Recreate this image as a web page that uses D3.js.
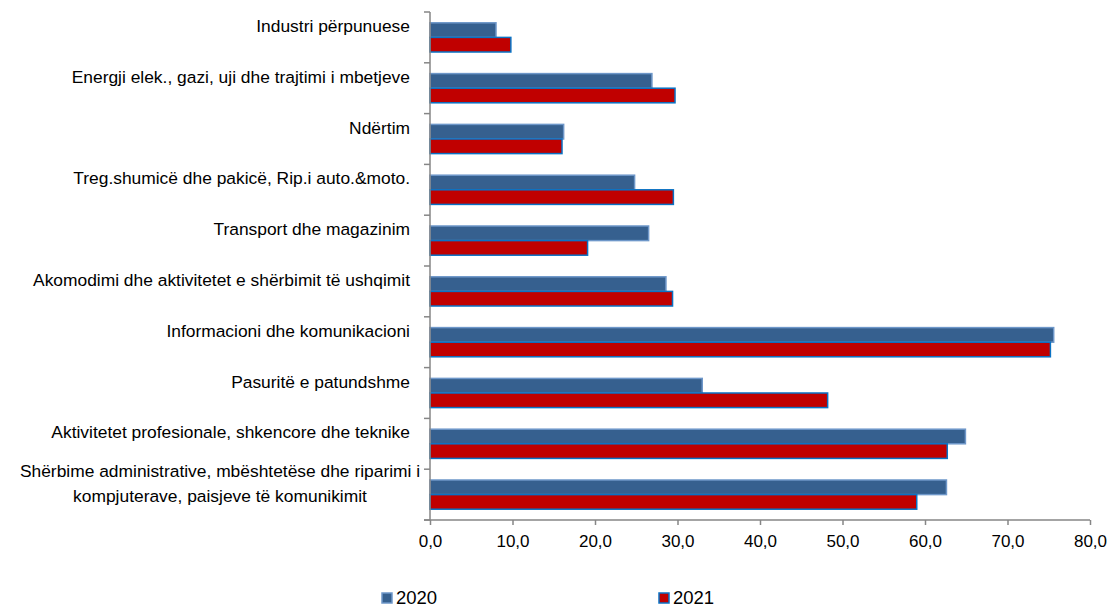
<!DOCTYPE html>
<html><head><meta charset="utf-8">
<script src="https://cdn.jsdelivr.net/npm/d3@7"></script>
<style>body{margin:0;background:#fff;} text{font-family:"Liberation Sans",Arial,sans-serif;fill:#000;}</style>
</head><body><svg id="c" width="1119" height="610"></svg>
<script>
const categories = [
  ["Industri përpunuese"],
  ["Energji elek., gazi, uji dhe trajtimi i mbetjeve"],
  ["Ndërtim"],
  ["Treg.shumicë dhe pakicë, Rip.i auto.&moto."],
  ["Transport dhe magazinim"],
  ["Akomodimi dhe aktivitetet e shërbimit të ushqimit"],
  ["Informacioni dhe komunikacioni"],
  ["Pasuritë e patundshme"],
  ["Aktivitetet profesionale, shkencore dhe teknike"],
  ["Shërbime administrative, mbështetëse dhe riparimi i", "kompjuterave, paisjeve të komunikimit"]
];
const series = ["2020", "2021"];
const values2020 = [8.0, 26.9, 16.2, 24.8, 26.5, 28.6, 75.6, 33.0, 64.9, 62.6];
const values2021 = [9.8, 29.7, 16.0, 29.5, 19.1, 29.4, 75.2, 48.2, 62.7, 59.0];
const xTicks = [0, 10, 20, 30, 40, 50, 60, 70, 80];

(function () {
const svg = d3.select("#c");
const pL = 430, pR = 1090, pT = 12, pB = 520;
const x = d3.scaleLinear().domain([0, 80]).range([pL, pR]);
const y = d3.scaleBand().domain(d3.range(categories.length)).range([pT, pB]).paddingInner(0.425).paddingOuter(0.2125);
const ySub = d3.scaleBand().domain(series).range([0, y.bandwidth()]);
const fills = {"2020": "#36608f", "2021": "#c00000"};
const strokes = {"2020": "#6e97c9", "2021": "#0a72c4"};
const data = [values2020, values2021];

series.forEach((s, si) => {
  svg.append("g").selectAll("rect").data(data[si]).join("rect")
    .attr("x", x(0))
    .attr("y", (d, i) => y(i) + ySub(s))
    .attr("width", d => x(d) - x(0))
    .attr("height", ySub.bandwidth())
    .attr("fill", fills[s])
    .attr("stroke", strokes[s])
    .attr("stroke-width", 1.5);
});

const axisColor = "#868686";
svg.append("line").attr("x1", pL).attr("x2", pL).attr("y1", pT).attr("y2", pB).attr("stroke", axisColor).attr("stroke-width", 1.5);
d3.range(categories.length + 1).forEach(i => {
  const yy = pT + i * (pB - pT) / categories.length;
  svg.append("line").attr("x1", pL - 6).attr("x2", pL).attr("y1", yy).attr("y2", yy).attr("stroke", axisColor).attr("stroke-width", 1.5);
});
const xAxis = d3.axisBottom(x).tickValues(xTicks).tickSize(5).tickFormat(d => d.toFixed(1).replace(".", ","));
const gx = svg.append("g").attr("transform", `translate(0,${pB})`).call(xAxis);
gx.select(".domain").attr("stroke", axisColor).attr("stroke-width", 1.5).attr("d", `M${pL-6},0H${pR}`);
gx.selectAll(".tick line").attr("stroke", axisColor).attr("stroke-width", 1.5);
gx.selectAll(".tick text").attr("font-size", 17).attr("font-family", "Liberation Sans, Arial, sans-serif").attr("fill", "#000").attr("y", 15).attr("dy", "0.71em");

categories.forEach((lines, i) => {
  const cy = y(i) + y.bandwidth() / 2 - 11.5;
  const lh = 25;
  const t = svg.append("text").attr("text-anchor", lines.length > 1 ? "middle" : "end").attr("font-size", 17.4);
  lines.forEach((ln, j) => {
    t.append("tspan").attr("x", lines.length > 1 ? 220 : 410)
      .attr("y", cy + (j - (lines.length - 1) / 2) * lh)
      .attr("dy", "0.35em").text(ln);
  });
});

const legX = {"2020": 382, "2021": 659};
series.forEach(s => {
  svg.append("rect").attr("x", legX[s]).attr("y", 593).attr("width", 10).attr("height", 10)
    .attr("fill", fills[s]).attr("stroke", strokes[s]).attr("stroke-width", 1.5);
  svg.append("text").attr("x", legX[s] + 14).attr("y", 598).attr("dy", "0.35em").attr("font-size", 18.5).text(s);
});
})();
</script></body></html>
